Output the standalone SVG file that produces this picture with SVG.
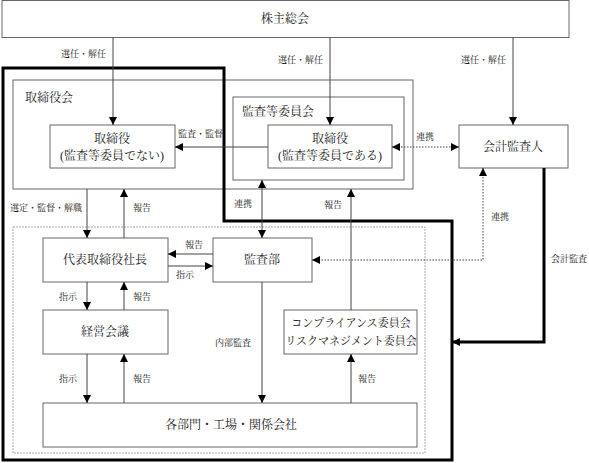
<svg xmlns="http://www.w3.org/2000/svg" width="589" height="463" viewBox="0 0 589 463">
<style>
text{font-family:"Liberation Serif","Noto Serif CJK JP","Noto Sans CJK JP",serif;fill:#222}
.b{fill:#fff;stroke:#666;stroke-width:1}
.g{fill:none;stroke:#666;stroke-width:1}
.t{font-size:12px;text-anchor:middle;dominant-baseline:central}
.tl{font-size:12px;dominant-baseline:central}
.s{font-size:9px;dominant-baseline:central}
.c{fill:none;stroke:#444;stroke-width:1}
.d{fill:none;stroke:#444;stroke-width:1;stroke-dasharray:1.5,1.5}
.k{fill:none;stroke:#000;stroke-width:3}
</style>
<defs>
<marker id="a" markerUnits="userSpaceOnUse" markerWidth="9" markerHeight="9" refX="8" refY="4" orient="auto-start-reverse" viewBox="0 0 9 9"><path d="M0,0 L8,4 L0,8 z" fill="#000"/></marker>
</defs>
<rect width="589" height="463" fill="#fff"/>
<g id="frames">
<rect x="13" y="80" width="400" height="109" class="g"/>
<rect x="233" y="97" width="171" height="83" class="g"/>
<rect x="13" y="227" width="412" height="226" fill="none" stroke="#aaa" stroke-width="1" stroke-dasharray="2,1"/>
<path d="M3,68 H224 V221 H452 V460 H3 Z" class="k"/>
<text x="25" y="98" class="tl">取締役会</text>
<text x="242" y="112" class="tl">監査等委員会</text>
</g>
<g id="n-shareholders"><rect x="2" y="0.5" width="567" height="37" class="b"/><text x="285" y="19" class="t">株主総会</text></g>
<g id="n-director"><rect x="50" y="125" width="125" height="43" class="b"/><text x="112" y="139" class="t">取締役</text><text x="112" y="156" class="t">(監査等委員でない)</text></g>
<g id="n-director-ac"><rect x="268" y="125" width="124" height="43" class="b"/><text x="330" y="139" class="t">取締役</text><text x="330" y="156" class="t">(監査等委員である)</text></g>
<g id="n-auditor"><rect x="459" y="125" width="109" height="43" class="b"/><text x="513" y="147" class="t">会計監査人</text></g>
<g id="n-president"><rect x="43" y="238" width="125" height="44" class="b"/><text x="105" y="260" class="t">代表取締役社長</text></g>
<g id="n-audit-dept"><rect x="213" y="238" width="99" height="44" class="b"/><text x="262" y="260" class="t">監査部</text></g>
<g id="n-mgmt"><rect x="43" y="310" width="125" height="44" class="b"/><text x="105" y="332" class="t">経営会議</text></g>
<g id="n-compliance"><rect x="284" y="310" width="133" height="44" class="b"/><text x="351" y="323" class="t" style="font-size:11px">コンプライアンス委員会</text><text x="351" y="341" class="t" style="font-size:11px">リスクマネジメント委員会</text></g>
<g id="n-depts"><rect x="43" y="403" width="374" height="44" class="b"/><text x="231" y="425" class="t">各部門・工場・関係会社</text></g>
<g id="connectors">
<path d="M113,37.5 V125" class="c" marker-end="url(#a)"/>
<path d="M330,37.5 V125" class="c" marker-end="url(#a)"/>
<path d="M513,37.5 V125" class="c" marker-end="url(#a)"/>
<path d="M268,147 H175" class="c" marker-end="url(#a)"/>
<path d="M392,147 H459" class="d" marker-start="url(#a)" marker-end="url(#a)"/>
<path d="M87,189 V238" class="c" marker-end="url(#a)"/>
<path d="M124,238 V189" class="c" marker-end="url(#a)"/>
<path d="M262,180 V238" class="c" marker-start="url(#a)" marker-end="url(#a)"/>
<path d="M351,310 V189" class="c" marker-end="url(#a)"/>
<path d="M483,168 V260 H312" class="d" marker-start="url(#a)" marker-end="url(#a)"/>
<path d="M544,168 V342 H452" class="k" marker-end="url(#a)"/>
<path d="M213,254 H168" class="c" marker-end="url(#a)"/>
<path d="M168,266 H213" class="c" marker-end="url(#a)"/>
<path d="M87,282 V310" class="c" marker-end="url(#a)"/>
<path d="M124,310 V282" class="c" marker-end="url(#a)"/>
<path d="M87,354 V403" class="c" marker-end="url(#a)"/>
<path d="M124,403 V354" class="c" marker-end="url(#a)"/>
<path d="M262,282 V403" class="c" marker-end="url(#a)"/>
<path d="M351,403 V354" class="c" marker-end="url(#a)"/>
<text x="61" y="54" class="s">選任・解任</text>
<text x="278" y="60" class="s">選任・解任</text>
<text x="461" y="60" class="s">選任・解任</text>
<text x="178" y="134" class="s">監査・監督</text>
<text x="416" y="137" class="s">連携</text>
<text x="10" y="208" class="s">選定・監督・解職</text>
<text x="133" y="208" class="s">報告</text>
<text x="234" y="204" class="s">連携</text>
<text x="324" y="205" class="s">報告</text>
<text x="491" y="217" class="s">連携</text>
<text x="551" y="259" class="s">会計監査</text>
<text x="185" y="245" class="s">報告</text>
<text x="176" y="275" class="s">指示</text>
<text x="59" y="297" class="s">指示</text>
<text x="133" y="297" class="s">報告</text>
<text x="59" y="379" class="s">指示</text>
<text x="133" y="379" class="s">報告</text>
<text x="215" y="343" class="s">内部監査</text>
<text x="358" y="379" class="s">報告</text>
</g>
</svg>
